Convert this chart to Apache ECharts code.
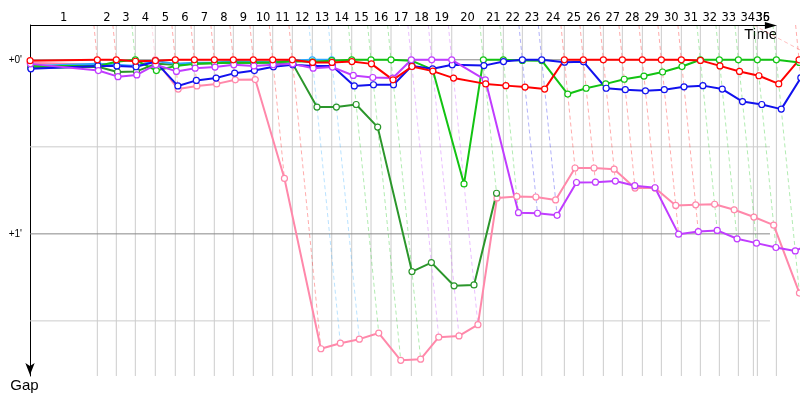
<!DOCTYPE html>
<html><head><meta charset="utf-8">
<script src="https://cdn.jsdelivr.net/npm/echarts@6/dist/echarts.min.js"></script>
<style>html,body{margin:0;padding:0;background:#fff}#c{width:800px;height:400px}</style>
</head><body><div id="c"></div>
<script>
// ---- data ----
const lapNumbers = [1,2,3,4,5,6,7,8,9,10,11,12,13,14,15,16,17,18,19,20,21,22,23,24,25,26,27,28,29,30,31,32,33,34,35,36];
// leader cumulative time (s) at end of each lap, index 0 = start
const leaderLapTimes = [0,234.7,300.9,367.2,436.9,506.6,572.9,642.6,708.9,778.6,846.2,914.6,984.3,1052.0,1121.7,1189.0,1258.7,1329.5,1400.6,1470.4,1580.6,1650.3,1716.5,1784.2,1863.0,1929.2,1999.0,2065.2,2135.0,2201.2,2270.9,2337.2,2403.4,2469.7,2535.9,2602.2,2681.3];
const extraGridTimes = [2522];
const finishLine = [[2522,-12],[2685,-3.4]];
const yLabelValues = [0, 60];
const yLineLight = [30, 90];
const yLineDark = [0, 60];
// gaps to the leader (s), index = lap (0 = start)
const gapPink = [1.0,1.7,2.1,2.1,0,10.1,9.0,8.3,6.9,6.8,40.9,99.6,97.7,96.3,94.2,103.6,103.2,95.6,95.2,91.3,47.6,47.1,47.3,48.3,37.3,37.3,37.7,44.2,44.2,50.2,50.0,49.8,51.7,54.2,57.0,80.4];
const gapDarkGreen = [2.8,2.4,4.2,4.0,1.4,1.7,1.4,1.2,0.9,1.0,0.9,1.4,16.3,16.3,15.4,23.2,73.0,69.9,77.9,77.6,46.0];
const gapCyan = [2.1,1.4,1.7,2.1,0.4,1.4,1.0,0.9,0.5,0.7,0.8,0.2,0,0];
const gapGreen = [2.1,2.1,0.7,0,3.7,2.1,1.4,1.1,0.9,1.0,0.8,0.5,0.7,0.3,0,0,0,0.3,3.4,42.8,0,0,0.2,0.3,11.8,9.8,8.3,6.7,5.6,4.2,2.3,0,0,0,0,0,0.9];
const gapBlue = [3.1,2.1,2.1,2.4,0.7,9.0,7.1,6.3,4.6,3.7,2.4,1.7,2.1,2.1,9.0,8.6,8.6,2.1,3.1,1.7,2.0,0.6,0,0,0.8,0.7,9.8,10.3,10.7,10.3,9.3,8.9,10.1,14.4,15.4,17.0,6.2];
const gapPurple = [1.4,3.7,5.8,5.2,1.7,4.0,2.9,2.5,1.7,2.1,1.7,1.4,2.9,2.5,5.4,6.1,6.3,0,0,0,6.9,52.7,52.9,53.6,42.3,42.2,41.8,43.4,44.1,60.1,59.2,58.8,61.7,63.2,64.7,65.9,62.1];
const gapRed = [0.3,0,0,0.5,0.3,0,0,0,0,0,0,0,0.9,0.9,0.6,1.4,6.9,2.3,3.9,6.3,8.3,8.9,9.4,10.1,0,0,0,0,0,0,0,0.2,2.1,4.0,5.5,8.3,0];

const drivers = [
  {name:'Pink', gaps:gapPink, color:'#ff88aa', rgb:'255,136,170'},
  {name:'DarkGreen', gaps:gapDarkGreen, color:'#2b962b', rgb:'43,150,43'},
  {name:'Cyan', gaps:gapCyan, color:'#2aa8ff', rgb:'42,168,255'},
  {name:'Green', gaps:gapGreen, color:'#12c312', rgb:'18,195,18'},
  {name:'Blue', gaps:gapBlue, color:'#1111ee', rgb:'17,17,238'},
  {name:'Purple', gaps:gapPurple, color:'#c03cff', rgb:'192,60,255'},
  {name:'Red', gaps:gapRed, color:'#ff0000', rgb:'255,0,0'}
];

const X_GRID_END = 2580;      // end of the drawn grid (time)
const X_ARROW_END = 2604;     // tip of the time axis arrow
const X_AXIS_MAX = 2684.6;    // right edge of the canvas
const Y_MIN = -12, Y_MAX = 109;

// ---- derived segments ----
const segs = [];
leaderLapTimes.slice(1, 36).concat(extraGridTimes).forEach(t => {
  segs.push({p:[t, Y_MIN, t, Y_MAX], color:'#cccccc', w:1, dash:null});
});
yLineLight.forEach(g => segs.push({p:[0, g, X_GRID_END, g], color:'#cccccc', w:1, dash:null}));
yLineDark.forEach(g => segs.push({p:[0, g, X_GRID_END, g], color:'#888888', w:1, dash:null}));
for (let k = 1; k < leaderLapTimes.length; k++) {
  let lead = null, maxGap = -Infinity;
  drivers.forEach(d => {
    const g = d.gaps[k];
    if (g == null) return;
    if (lead === null || g < lead.gaps[k]) lead = d;
    if (g > maxGap) maxGap = g;
  });
  const t = leaderLapTimes[k];
  segs.push({p:[t + Y_MIN, Y_MIN, t + maxGap, maxGap], color:'rgba(' + lead.rgb + ',0.33)', w:1, dash:[4,3]});
}
segs.push({p:[finishLine[0][0], finishLine[0][1], finishLine[1][0], finishLine[1][1]], color:'rgba(255,0,0,0.25)', w:1, dash:[4,3]});

const labelItems = lapNumbers.map((n, i) => {
  const mid = (leaderLapTimes[i] + leaderLapTimes[i + 1]) / 2;
  return [Math.min(mid, X_GRID_END - 25), n];
});

const series = [];
series.push({
  type:'custom', silent:true, clip:false, z:1, animation:false,
  data: segs.map(s => s.p),
  encode:{x:[0,2], y:[1,3]},
  renderItem(params, api) {
    const s = segs[params.dataIndex];
    const a = api.coord([api.value(0), api.value(1)]);
    const b = api.coord([api.value(2), api.value(3)]);
    return {type:'line', shape:{x1:a[0], y1:a[1], x2:b[0], y2:b[1]},
      style:{stroke:s.color, lineWidth:s.w, lineDash:s.dash || null, fill:null}};
  }
});
// time axis line with arrow
series.push({
  type:'custom', silent:true, clip:false, z:6, animation:false,
  data: [[0, Y_MIN, X_ARROW_END, Y_MIN]],
  encode:{x:[0,2], y:[1,3]},
  renderItem(params, api) {
    const a = api.coord([api.value(0), api.value(1)]);
    const b = api.coord([api.value(2), api.value(3)]);
    return {type:'group', children:[
      {type:'line', shape:{x1:a[0], y1:a[1] + 0.5, x2:b[0] - 8, y2:b[1] + 0.5}, style:{stroke:'#000', lineWidth:1}},
      {type:'polygon', shape:{points:[[b[0], b[1] + 0.5], [b[0] - 12, b[1] - 3], [b[0] - 12, b[1] + 4]]}, style:{fill:'#000'}}
    ]};
  }
});
series.push({
  type:'custom', silent:true, clip:false, z:5, animation:false,
  data: labelItems,
  encode:{x:0, y:1},
  renderItem(params, api) {
    const p = api.coord([api.value(0), Y_MIN]);
    return {type:'text', x:p[0], y:p[1] - 1,
      style:{text:String(api.value(1)), fill:'#000', font:'11.5px "DejaVu Sans"', align:'center', verticalAlign:'bottom'}};
  }
});
drivers.forEach(d => {
  series.push({
    name:d.name, type:'line', clip:false, z:3, animation:false, silent:true,
    data: leaderLapTimes.filter((t, k) => k < d.gaps.length).map((t, k) => d.gaps[k] == null ? null : [t + d.gaps[k], d.gaps[k]]),
    symbol:'circle', symbolSize:6, showSymbol:true,
    lineStyle:{color:d.color, width:2},
    itemStyle:{color:'#ffffff', borderColor:d.color, borderWidth:1.2}
  });
});

const chart = echarts.init(document.getElementById('c'), null, {renderer:'canvas'});
chart.setOption({
  animation:false,
  backgroundColor:'#ffffff',
  grid:{left:30, right:0, top:25, bottom:24, containLabel:false},
  xAxis:{type:'value', position:'top', min:0, max:X_AXIS_MAX,
    axisLine:{show:false, onZero:false},
    axisTick:{show:false}, axisLabel:{show:false}, splitLine:{show:false},
    name:'Time', nameLocation:'end', nameGap:-23,
    nameTextStyle:{fontFamily:'Liberation Sans', fontSize:15, color:'#000', align:'right', verticalAlign:'top', padding:[2,0,0,0]}},
  yAxis:{type:'value', inverse:true, min:Y_MIN, max:Y_MAX,
    axisLine:{show:true, onZero:false, lineStyle:{color:'#000', width:1}, symbol:['arrow','none'], symbolSize:[7,12], symbolOffset:[1,0]},
    axisTick:{show:false}, splitLine:{show:false},
    axisLabel:{customValues:yLabelValues, formatter:v => '+' + Math.round(v/60) + "'", fontFamily:'Liberation Sans', fontSize:10, color:'#000', margin:8},
    name:'Gap', nameLocation:'end', nameGap:2,
    nameTextStyle:{fontFamily:'Liberation Sans', fontSize:15, color:'#000', align:'center', verticalAlign:'top', padding:[0,11,0,0]}},
  series: series
});
</script>
</body></html>
